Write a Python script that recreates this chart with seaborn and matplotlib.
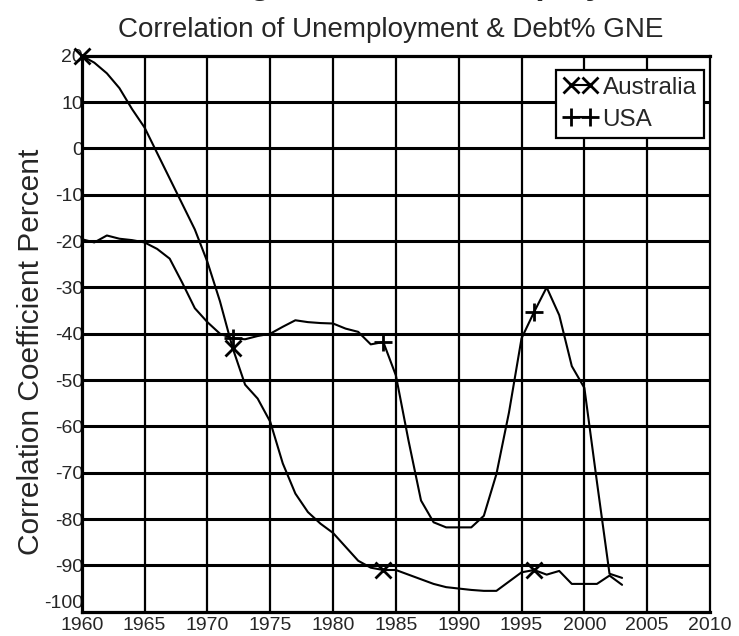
import matplotlib
matplotlib.use("Agg")
import matplotlib.pyplot as plt
import seaborn as sns
import pandas as pd
from matplotlib.lines import Line2D

years = list(range(1960, 2004))
australia = [20, 18.5, 16.2, 13, 8.5, 4.5, -1, -6.5, -12, -17.5,
             -24.5, -33, -43, -51, -54, -59, -68, -74.5, -78.5, -81,
             -83, -86, -89, -90.5, -91, -91, -92, -93, -94, -94.7,
             -95, -95.3, -95.5, -95.5, -93.5, -91.5, -91, -92, -91.2, -94,
             -94, -94, -92.2, -94.2]
usa = [-19.6, -20.3, -18.8, -19.5, -19.8, -20.3, -21.7, -23.8, -29, -34.5,
       -37.5, -40, -41, -41.2, -40.5, -40, -38.5, -37.1, -37.5, -37.7,
       -37.8, -38.9, -39.6, -42.3, -41.8, -49, -63, -76, -80.7, -81.8,
       -81.8, -81.8, -79.3, -70.3, -57, -41, -35.3, -30, -36, -47,
       -51.7, -72, -91.8, -92.7]
aus_marks = [0, 12, 24, 36]
usa_marks = [12, 24, 36]
series_names = ["Australia", "USA"]
x_ticks = list(range(1960, 2011, 5))
y_ticks = list(range(-100, 21, 10))
title = "Correlation of Unemployment & Debt% GNE"
top_title = "Correlation of Changes in Total Unemployment & Debt"
ylabel = "Correlation Coefficient Percent"

df = pd.DataFrame({"year": years, "Australia": australia, "USA": usa})

sns.set_theme(style="white")
plt.rcParams["font.family"] = ["Liberation Sans", "DejaVu Sans"]

fig = plt.figure(figsize=(7.39, 6.36), dpi=100)
ax = fig.add_axes([0.1106, 0.0382, 0.8502, 0.8742])

sns.lineplot(data=df, x="year", y="Australia", ax=ax, color="black", lw=1.5,
             marker="x", markevery=aus_marks, markersize=11, mew=2,
             mec="black", clip_on=False, zorder=5)
sns.lineplot(data=df, x="year", y="USA", ax=ax, color="black", lw=1.5,
             marker="+", markevery=usa_marks, markersize=13, mew=2,
             mec="black", zorder=5)

ax.set_xlim(1960, 2010)
ax.set_ylim(-100, 20)
ax.set_xticks(x_ticks)
ax.set_yticks(y_ticks)
ax.set_xticklabels([str(t) for t in x_ticks], fontsize=14)
ax.set_yticklabels([str(t) for t in y_ticks], fontsize=14)
ax.get_yticklabels()[0].set_verticalalignment("bottom")
ax.tick_params(length=0)
ax.tick_params(axis="y", pad=-1)
ax.tick_params(axis="x", pad=4)
ax.set_xlabel("")
ax.set_ylabel(ylabel, fontsize=21.5)
ax.yaxis.set_label_coords(-0.058, 0.468)

for t in y_ticks[1:-1]:
    ax.axhline(t, color="black", lw=2.2, zorder=1)
for t in x_ticks[1:-1]:
    ax.axvline(t, color="black", lw=1.6, zorder=1)
for side in ["left", "bottom", "top"]:
    ax.spines[side].set_color("black")
    ax.spines[side].set_linewidth(2.3)
ax.spines["right"].set_color("black")
ax.spines["right"].set_linewidth(1.6)

handles = [Line2D([], [], color="black", lw=1.5, marker="x", markersize=11, mew=2),
           Line2D([], [], color="black", lw=1.5, marker="+", markersize=13, mew=2)]
leg = ax.legend(handles, series_names, loc="upper right",
                bbox_to_anchor=(0.99, 0.975), fontsize=17.5, numpoints=2,
                handlelength=1.4, handletextpad=0.2, borderpad=0.3,
                labelspacing=0.4, fancybox=False, framealpha=1,
                borderaxespad=0)
leg.get_frame().set_edgecolor("black")
leg.get_frame().set_linewidth(1.6)
leg.set_zorder(10)

fig.text(0.528, 0.953, title, ha="center", va="center", fontsize=20)
fig.text(0.5, 1.009, top_title, ha="center", va="baseline", fontsize=24,
         fontweight="bold")

fig.savefig("out.png", dpi=100)
